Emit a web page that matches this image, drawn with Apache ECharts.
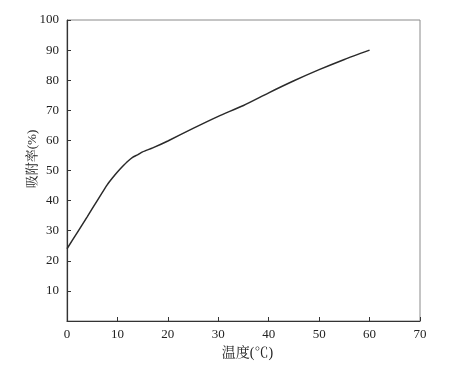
<!DOCTYPE html>
<html>
<head>
<meta charset="utf-8">
<script src="https://cdn.jsdelivr.net/npm/echarts@6/dist/echarts.min.js"></script>
<style>html,body{margin:0;padding:0;background:#fff}#c{width:455px;height:369px}</style>
</head>
<body>
<div id="c"></div>
<script>
const temperature = [0, 2, 4, 6, 8, 9, 10, 11, 12, 13, 14, 15, 17, 20, 25, 30, 35, 40, 45, 50, 55, 60];
const adsorption = [24, 29.3, 34.6, 40, 45.3, 47.5, 49.5, 51.3, 53, 54.4, 55.2, 56.2, 57.5, 59.8, 64, 68, 71.6, 75.8, 79.8, 83.5, 86.9, 90];
const xLabel = '温度(℃)';
const yLabel = '吸附率(%)';

const chart = echarts.init(document.getElementById('c'), null, {renderer: 'canvas'});
const font = '"Liberation Serif", "Times New Roman", "Noto Serif CJK SC", "Noto Sans CJK SC", serif';
chart.setOption({
  animation: false,
  grid: {left: 67, right: 35, top: 20, bottom: 48, show: true, borderColor: '#8a8a8a', borderWidth: 1, backgroundColor: 'transparent'},
  graphic: [{
    type: 'text', x: 33, y: 159, rotation: Math.PI / 2,
    style: {text: yLabel, fontFamily: font, fontSize: 13, fill: '#222', align: 'center', verticalAlign: 'middle'}
  }],
  xAxis: {
    type: 'value', min: 0, max: 70, interval: 10,
    name: xLabel, nameLocation: 'middle', nameGap: 25,
    nameTextStyle: {fontFamily: font, fontSize: 14, color: '#222', padding: [0, 0, 0, 8]},
    axisLine: {lineStyle: {color: '#333', width: 1.2}},
    axisTick: {inside: true, length: 4, lineStyle: {color: '#333'}},
    axisLabel: {fontFamily: font, fontSize: 13, color: '#222', margin: 7},
    splitLine: {show: false}
  },
  yAxis: {
    type: 'value', min: 0, max: 100, interval: 10,
    axisLine: {lineStyle: {color: '#333', width: 1.2}},
    axisTick: {inside: true, length: 4, lineStyle: {color: '#333'}},
    axisLabel: {fontFamily: font, fontSize: 13, color: '#222', margin: 8, formatter: v => v === 0 ? '' : String(v)},
    splitLine: {show: false}
  },
  series: [{
    type: 'line',
    data: temperature.map((t, i) => [t, adsorption[i]]),
    showSymbol: false,
    smooth: 0.2,
    lineStyle: {color: '#2a2a2a', width: 1.5}
  }]
});
</script>
</body>
</html>
